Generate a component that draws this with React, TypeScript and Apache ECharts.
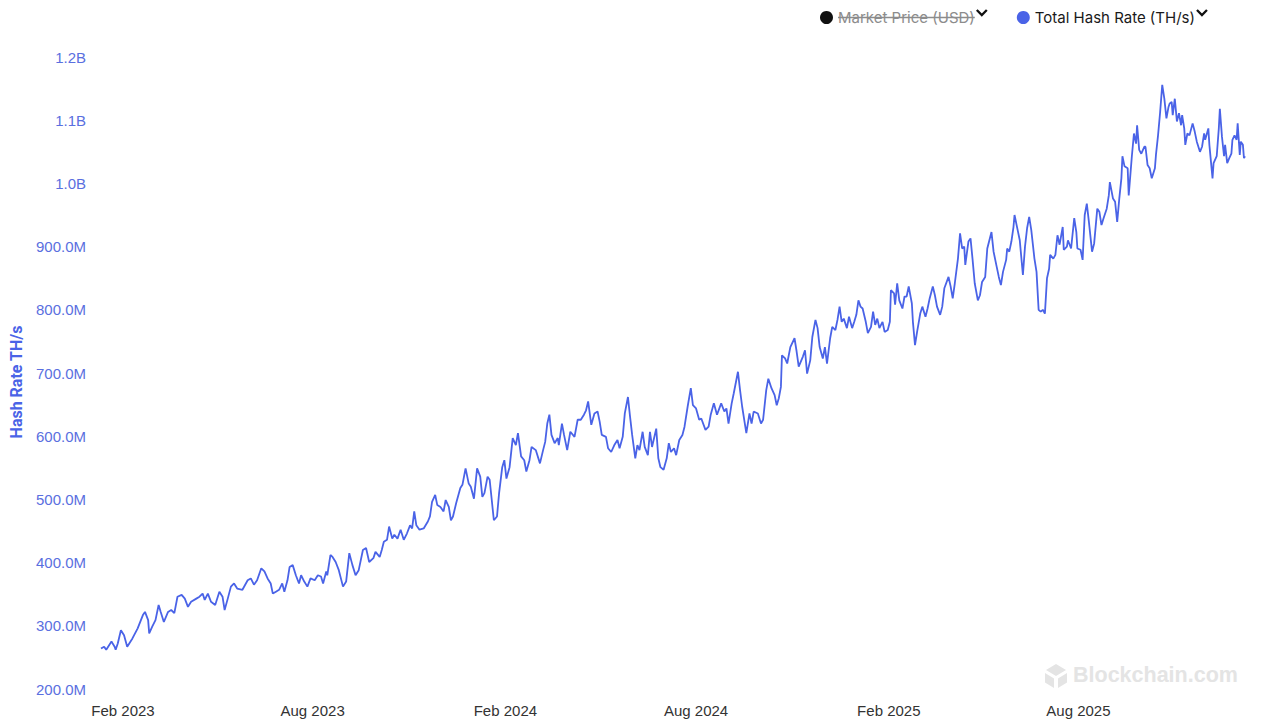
import React, { useEffect, useRef } from "react";
import * as echarts from "echarts";

// Total Hash Rate (TH/s), in millions of TH/s
const hash2023: [string, number][] = [
  ["2023-01-11", 264], ["2023-01-14", 267], ["2023-01-16", 262], ["2023-01-21", 275], ["2023-01-24", 267],
  ["2023-01-25", 262], ["2023-01-27", 272], ["2023-01-30", 293], ["2023-02-02", 285], ["2023-02-05", 267],
  ["2023-02-10", 280], ["2023-02-15", 296], ["2023-02-20", 317], ["2023-02-22", 322], ["2023-02-25", 309],
  ["2023-02-26", 288], ["2023-03-01", 299], ["2023-03-04", 309], ["2023-03-07", 333], ["2023-03-09", 322],
  ["2023-03-12", 306], ["2023-03-16", 322], ["2023-03-19", 325], ["2023-03-22", 320], ["2023-03-25", 346],
  ["2023-03-29", 349], ["2023-04-01", 343], ["2023-04-04", 330], ["2023-04-07", 338], ["2023-04-12", 343],
  ["2023-04-15", 346], ["2023-04-18", 351], ["2023-04-20", 341], ["2023-04-23", 351], ["2023-04-26", 338],
  ["2023-04-30", 333], ["2023-05-04", 354], ["2023-05-07", 346], ["2023-05-09", 325], ["2023-05-12", 343],
  ["2023-05-15", 362], ["2023-05-18", 367], ["2023-05-21", 359], ["2023-05-26", 357], ["2023-05-31", 372],
  ["2023-06-03", 375], ["2023-06-06", 365], ["2023-06-09", 372], ["2023-06-13", 391], ["2023-06-16", 386],
  ["2023-06-19", 375], ["2023-06-22", 367], ["2023-06-24", 351], ["2023-06-27", 354], ["2023-06-30", 357],
  ["2023-07-03", 367], ["2023-07-05", 354], ["2023-07-08", 372], ["2023-07-10", 393], ["2023-07-13", 396],
  ["2023-07-16", 380], ["2023-07-19", 367], ["2023-07-21", 380], ["2023-07-24", 370], ["2023-07-27", 362],
  ["2023-07-30", 375], ["2023-08-03", 372], ["2023-08-06", 380], ["2023-08-09", 378], ["2023-08-11", 367],
  ["2023-08-14", 386], ["2023-08-15", 380], ["2023-08-18", 412], ["2023-08-20", 409], ["2023-08-23", 401],
  ["2023-08-26", 388], ["2023-08-30", 362], ["2023-09-02", 370], ["2023-09-05", 415], ["2023-09-08", 396],
  ["2023-09-11", 380], ["2023-09-14", 388], ["2023-09-18", 420], ["2023-09-21", 423], ["2023-09-24", 401],
  ["2023-09-28", 407], ["2023-09-30", 417], ["2023-10-04", 409], ["2023-10-06", 420], ["2023-10-08", 433],
  ["2023-10-11", 436], ["2023-10-13", 457], ["2023-10-16", 438], ["2023-10-18", 444], ["2023-10-21", 438],
  ["2023-10-24", 452], ["2023-10-27", 436], ["2023-10-30", 446], ["2023-11-02", 459], ["2023-11-04", 454],
  ["2023-11-06", 481], ["2023-11-08", 459], ["2023-11-11", 452], ["2023-11-15", 454], ["2023-11-19", 465],
  ["2023-11-21", 473], ["2023-11-23", 496], ["2023-11-26", 507], ["2023-11-28", 491], ["2023-12-01", 488],
  ["2023-12-04", 481], ["2023-12-06", 499], ["2023-12-09", 488], ["2023-12-11", 467], ["2023-12-13", 473],
  ["2023-12-16", 494], ["2023-12-20", 518], ["2023-12-22", 523], ["2023-12-25", 549], ["2023-12-28", 525],
  ["2023-12-30", 520],
];

const hash2024: [string, number][] = [
  ["2024-01-02", 501], ["2024-01-05", 549], ["2024-01-08", 536], ["2024-01-10", 504], ["2024-01-12", 510],
  ["2024-01-15", 536], ["2024-01-17", 531], ["2024-01-19", 499], ["2024-01-21", 467], ["2024-01-24", 473],
  ["2024-01-26", 510], ["2024-01-29", 551], ["2024-01-31", 562], ["2024-02-02", 533], ["2024-02-05", 551],
  ["2024-02-08", 597], ["2024-02-11", 586], ["2024-02-13", 605], ["2024-02-16", 568], ["2024-02-19", 562],
  ["2024-02-21", 544], ["2024-02-24", 562], ["2024-02-26", 583], ["2024-03-01", 578], ["2024-03-05", 557],
  ["2024-03-08", 578], ["2024-03-10", 591], ["2024-03-12", 620], ["2024-03-14", 634], ["2024-03-16", 602],
  ["2024-03-19", 589], ["2024-03-22", 597], ["2024-03-23", 586], ["2024-03-26", 620], ["2024-03-28", 602],
  ["2024-03-31", 578], ["2024-04-03", 607], ["2024-04-07", 599], ["2024-04-10", 626], ["2024-04-13", 626],
  ["2024-04-16", 634], ["2024-04-18", 641], ["2024-04-20", 655], ["2024-04-23", 618], ["2024-04-26", 636],
  ["2024-04-29", 639], ["2024-05-01", 623], ["2024-05-03", 602], ["2024-05-07", 599], ["2024-05-09", 581],
  ["2024-05-12", 575], ["2024-05-15", 586], ["2024-05-18", 594], ["2024-05-20", 581], ["2024-05-23", 599],
  ["2024-05-25", 636], ["2024-05-28", 662], ["2024-05-30", 631], ["2024-06-01", 602], ["2024-06-04", 565],
  ["2024-06-06", 586], ["2024-06-08", 578], ["2024-06-11", 607], ["2024-06-13", 583], ["2024-06-16", 570],
  ["2024-06-18", 607], ["2024-06-20", 583], ["2024-06-24", 612], ["2024-06-26", 565], ["2024-06-28", 551],
  ["2024-07-01", 547], ["2024-07-04", 565], ["2024-07-06", 589], ["2024-07-08", 575], ["2024-07-11", 581],
  ["2024-07-13", 570], ["2024-07-16", 594], ["2024-07-19", 602], ["2024-07-21", 615], ["2024-07-24", 647],
  ["2024-07-27", 676], ["2024-07-29", 649], ["2024-08-01", 644], ["2024-08-04", 626], ["2024-08-06", 628],
  ["2024-08-10", 610], ["2024-08-13", 615], ["2024-08-15", 634], ["2024-08-18", 652], ["2024-08-21", 634],
  ["2024-08-25", 652], ["2024-08-28", 639], ["2024-08-30", 644], ["2024-09-01", 620], ["2024-09-04", 652],
  ["2024-09-06", 668], ["2024-09-10", 702], ["2024-09-12", 673], ["2024-09-14", 647], ["2024-09-16", 626],
  ["2024-09-18", 605], ["2024-09-21", 636], ["2024-09-23", 620], ["2024-09-25", 639], ["2024-09-29", 636],
  ["2024-10-02", 620], ["2024-10-04", 626], ["2024-10-07", 673], ["2024-10-09", 691], ["2024-10-12", 676],
  ["2024-10-15", 665], ["2024-10-17", 649], ["2024-10-19", 660], ["2024-10-21", 678], ["2024-10-22", 728],
  ["2024-10-25", 723], ["2024-10-27", 715], ["2024-10-30", 741], ["2024-11-03", 755], ["2024-11-05", 734],
  ["2024-11-07", 710], ["2024-11-11", 726], ["2024-11-13", 736], ["2024-11-15", 699], ["2024-11-18", 720],
  ["2024-11-20", 757], ["2024-11-23", 784], ["2024-11-25", 771], ["2024-11-27", 741], ["2024-11-30", 723],
  ["2024-12-02", 741], ["2024-12-04", 715], ["2024-12-07", 755], ["2024-12-09", 773], ["2024-12-12", 768],
  ["2024-12-14", 784], ["2024-12-16", 805], ["2024-12-18", 781], ["2024-12-20", 786], ["2024-12-23", 771],
  ["2024-12-25", 789], ["2024-12-28", 771], ["2024-12-30", 781],
];

const hash2025: [string, number][] = [
  ["2025-01-01", 792], ["2025-01-03", 815], ["2025-01-05", 805], ["2025-01-07", 802], ["2025-01-10", 781],
  ["2025-01-12", 763], ["2025-01-15", 773], ["2025-01-17", 797], ["2025-01-19", 776], ["2025-01-21", 786],
  ["2025-01-23", 771], ["2025-01-26", 781], ["2025-01-28", 765], ["2025-01-31", 768], ["2025-02-02", 781],
  ["2025-02-03", 831], ["2025-02-06", 826], ["2025-02-07", 808], ["2025-02-09", 842], ["2025-02-11", 815],
  ["2025-02-14", 802], ["2025-02-16", 821], ["2025-02-18", 821], ["2025-02-20", 837], ["2025-02-23", 810],
  ["2025-02-24", 781], ["2025-02-26", 744], ["2025-02-28", 765], ["2025-03-03", 794], ["2025-03-05", 805],
  ["2025-03-08", 789], ["2025-03-10", 802], ["2025-03-12", 818], ["2025-03-15", 837], ["2025-03-17", 823],
  ["2025-03-19", 805], ["2025-03-22", 792], ["2025-03-24", 805], ["2025-03-26", 834], ["2025-03-30", 852],
  ["2025-04-01", 837], ["2025-04-03", 818], ["2025-04-05", 842], ["2025-04-08", 881], ["2025-04-10", 921],
  ["2025-04-12", 897], ["2025-04-14", 900], ["2025-04-15", 871], ["2025-04-18", 908], ["2025-04-20", 913],
  ["2025-04-22", 879], ["2025-04-24", 842], ["2025-04-27", 815], ["2025-04-29", 823], ["2025-05-01", 844],
  ["2025-05-04", 852], ["2025-05-06", 897], ["2025-05-08", 910], ["2025-05-10", 923], ["2025-05-12", 892],
  ["2025-05-15", 868], ["2025-05-17", 852], ["2025-05-19", 839], ["2025-05-21", 860], ["2025-05-24", 879],
  ["2025-05-25", 897], ["2025-05-27", 892], ["2025-05-29", 908], ["2025-05-31", 931], ["2025-06-01", 950],
  ["2025-06-04", 926], ["2025-06-06", 910], ["2025-06-09", 855], ["2025-06-11", 900], ["2025-06-13", 929],
  ["2025-06-15", 947], ["2025-06-17", 926], ["2025-06-20", 881], ["2025-06-22", 860], ["2025-06-24", 800],
  ["2025-06-26", 797], ["2025-06-28", 800], ["2025-06-30", 794], ["2025-07-02", 850], ["2025-07-04", 865],
  ["2025-07-05", 887], ["2025-07-08", 881], ["2025-07-10", 887], ["2025-07-12", 918], ["2025-07-14", 903],
  ["2025-07-17", 931], ["2025-07-18", 895], ["2025-07-21", 900], ["2025-07-22", 910], ["2025-07-25", 897],
  ["2025-07-28", 945], ["2025-07-30", 923], ["2025-07-31", 897], ["2025-08-03", 895], ["2025-08-05", 879],
  ["2025-08-07", 950], ["2025-08-09", 968], ["2025-08-11", 939], ["2025-08-14", 892], ["2025-08-16", 905],
  ["2025-08-19", 960], ["2025-08-21", 955], ["2025-08-23", 934], ["2025-08-25", 945], ["2025-08-28", 960],
  ["2025-08-30", 981], ["2025-08-31", 1002], ["2025-09-03", 976], ["2025-09-05", 971], ["2025-09-07", 939],
  ["2025-09-09", 976], ["2025-09-11", 1008], ["2025-09-12", 1043], ["2025-09-14", 1027], ["2025-09-17", 1024],
  ["2025-09-18", 981], ["2025-09-21", 1043], ["2025-09-23", 1079], ["2025-09-25", 1063], ["2025-09-26", 1092],
  ["2025-09-28", 1053], ["2025-09-30", 1047], ["2025-10-03", 1058], ["2025-10-04", 1058], ["2025-10-06", 1029],
  ["2025-10-08", 1024], ["2025-10-10", 1008], ["2025-10-13", 1024], ["2025-10-14", 1045], ["2025-10-16", 1076],
  ["2025-10-18", 1113], ["2025-10-20", 1156], ["2025-10-22", 1134], ["2025-10-24", 1103], ["2025-10-26", 1121],
  ["2025-10-27", 1126], ["2025-10-29", 1129], ["2025-10-30", 1108], ["2025-11-01", 1134], ["2025-11-03", 1098],
  ["2025-11-05", 1111], ["2025-11-07", 1092], ["2025-11-08", 1108], ["2025-11-10", 1087], ["2025-11-11", 1061],
  ["2025-11-13", 1079], ["2025-11-15", 1076], ["2025-11-18", 1095], ["2025-11-20", 1082], ["2025-11-22", 1066],
  ["2025-11-25", 1050], ["2025-11-27", 1058], ["2025-11-29", 1079], ["2025-11-30", 1069], ["2025-12-03", 1087],
  ["2025-12-04", 1061], ["2025-12-07", 1008], ["2025-12-08", 1032], ["2025-12-11", 1043], ["2025-12-13", 1087],
  ["2025-12-14", 1118], ["2025-12-16", 1074], ["2025-12-18", 1043], ["2025-12-19", 1061], ["2025-12-21", 1032],
  ["2025-12-23", 1040], ["2025-12-25", 1047], ["2025-12-26", 1069], ["2025-12-28", 1076], ["2025-12-30", 1069],
  ["2025-12-31", 1095],
];

const hash2026: [string, number][] = [
  ["2026-01-02", 1045], ["2026-01-03", 1066], ["2026-01-05", 1061], ["2026-01-06", 1040], ["2026-01-07", 1043],
];

const xTickDates = ["2023-02-01", "2023-08-01", "2024-02-01", "2024-08-01", "2025-02-01", "2025-08-01"];
const xTickLabels = ["Feb 2023", "Aug 2023", "Feb 2024", "Aug 2024", "Feb 2025", "Aug 2025"];

const Y_MIN = 200;
const Y_MAX = 1200;
const Y_STEP = 100;

const SERIES_PRICE = "Market Price (USD)";
const SERIES_HASH = "Total Hash Rate (TH/s)";

const BLUE = "#4a63e7";
const LEGEND_FONT = "15px Inter, sans-serif";

function toTs(s: string): number {
  const [y, m, d] = s.split("-").map(Number);
  return new Date(y, m - 1, d).getTime();
}

function measure(text: string): number {
  const ctx = document.createElement("canvas").getContext("2d");
  if (!ctx) return text.length * 7.3;
  ctx.font = LEGEND_FONT;
  return ctx.measureText(text).width;
}

export default function App() {
  const ref = useRef<HTMLDivElement>(null);

  useEffect(() => {
    if (!ref.current) return;
    const chart = echarts.init(ref.current, undefined, { renderer: "svg" });
    const hashData = [...hash2023, ...hash2024, ...hash2025, ...hash2026];
    const tickTs = xTickDates.map(toTs);

    // legend geometry (decoration: chevrons + strike-through)
    const LEG_LEFT = 820;
    const LEG_Y = 17;
    const ICON = 13;
    const GAP = 42;
    const w1 = measure(SERIES_PRICE);
    const w2 = measure(SERIES_HASH);
    const t1 = LEG_LEFT + ICON + 5;
    const t2 = t1 + w1 + GAP + ICON + 5;
    const chevron = (x: number) => ({
      type: "polyline",
      shape: { points: [[x + 2, LEG_Y - 7], [x + 7, LEG_Y - 2], [x + 12, LEG_Y - 7]] },
      style: { stroke: "#111", lineWidth: 2.3, fill: null, lineJoin: "miter" },
      silent: true,
    });

    chart.setOption({
      animation: false,
      backgroundColor: "#ffffff",
      textStyle: { fontFamily: "Liberation Sans, Arial, sans-serif" },
      legend: {
        top: 10,
        left: LEG_LEFT,
        padding: 0,
        itemWidth: ICON,
        itemHeight: ICON,
        itemGap: GAP,
        icon: "circle",
        selectedMode: false,
        textStyle: {
          fontFamily: "Inter, sans-serif",
          fontSize: 15,
          color: "#1a1a1a",
        },
        data: [
          { name: SERIES_PRICE, itemStyle: { color: "#111" }, textStyle: { color: "#8c8c8c" } },
          { name: SERIES_HASH, itemStyle: { color: BLUE } },
        ],
      },
      grid: { left: 100, right: 16, top: 57, bottom: 34 },
      xAxis: {
        type: "value",
        min: toTs(hashData[0][0]),
        max: toTs(hashData[hashData.length - 1][0]),
        axisLine: { show: false },
        axisTick: { show: false },
        splitLine: { show: false },
        axisLabel: {
          customValues: tickTs,
          color: "#333",
          fontSize: 15,
          margin: 14,
          formatter: (v: number) => {
            const i = tickTs.findIndex((t) => Math.abs(t - v) < 43200000);
            return i >= 0 ? xTickLabels[i] : "";
          },
        },
      },
      yAxis: {
        type: "value",
        min: Y_MIN,
        max: Y_MAX,
        interval: Y_STEP,
        name: "Hash Rate TH/s",
        nameLocation: "middle",
        nameGap: 77,
        nameTextStyle: {
          color: BLUE,
          fontSize: 16,
          fontWeight: "bold",
          fontFamily: "Roboto, Liberation Sans, sans-serif",
          padding: [0, 18, 0, 0],
        },
        axisLine: { show: false },
        axisTick: { show: false },
        splitLine: { show: false },
        axisLabel: {
          color: "#5a6fe0",
          fontSize: 15,
          margin: 15,
          formatter: (v: number) => (v >= 1000 ? `${(v / 1000).toFixed(1)}B` : `${v.toFixed(1)}M`),
        },
      },
      series: [
        {
          name: SERIES_PRICE,
          type: "line",
          data: [],
          itemStyle: { color: "#111" },
          showSymbol: false,
        },
        {
          name: SERIES_HASH,
          type: "line",
          data: hashData.map(([d, v]) => [toTs(d), v]),
          showSymbol: false,
          itemStyle: { color: BLUE },
          lineStyle: { color: BLUE, width: 1.8 },
        },
      ],
      graphic: [
        { type: "line", shape: { x1: t1, y1: LEG_Y + 0.5, x2: t1 + w1, y2: LEG_Y + 0.5 }, style: { stroke: "#8c8c8c", lineWidth: 1.3 }, silent: true },
        chevron(t1 + w1),
        chevron(t2 + w2),
        { type: "polygon", shape: { points: [[1056, 664], [1066, 670], [1056, 676], [1046, 670]] }, style: { fill: "#e4e4e4" }, silent: true },
        { type: "polygon", shape: { points: [[1045, 673], [1054, 678.5], [1054, 688], [1045, 682.5]] }, style: { fill: "#e4e4e4" }, silent: true },
        { type: "polygon", shape: { points: [[1067, 673], [1058, 678.5], [1058, 688], [1067, 682.5]] }, style: { fill: "#e4e4e4" }, silent: true },
        {
          type: "text",
          left: 1073,
          top: 664,
          style: { text: "Blockchain.com", fill: "#e4e4e4", font: "bold 21.5px Liberation Sans, Arial, sans-serif" },
          silent: true,
        },
      ],
    });
    return () => chart.dispose();
  }, []);

  return (
    <div
      ref={ref}
      style={{ position: "absolute", left: 0, top: 0, width: 1261, height: 723 }}
    />
  );
}
